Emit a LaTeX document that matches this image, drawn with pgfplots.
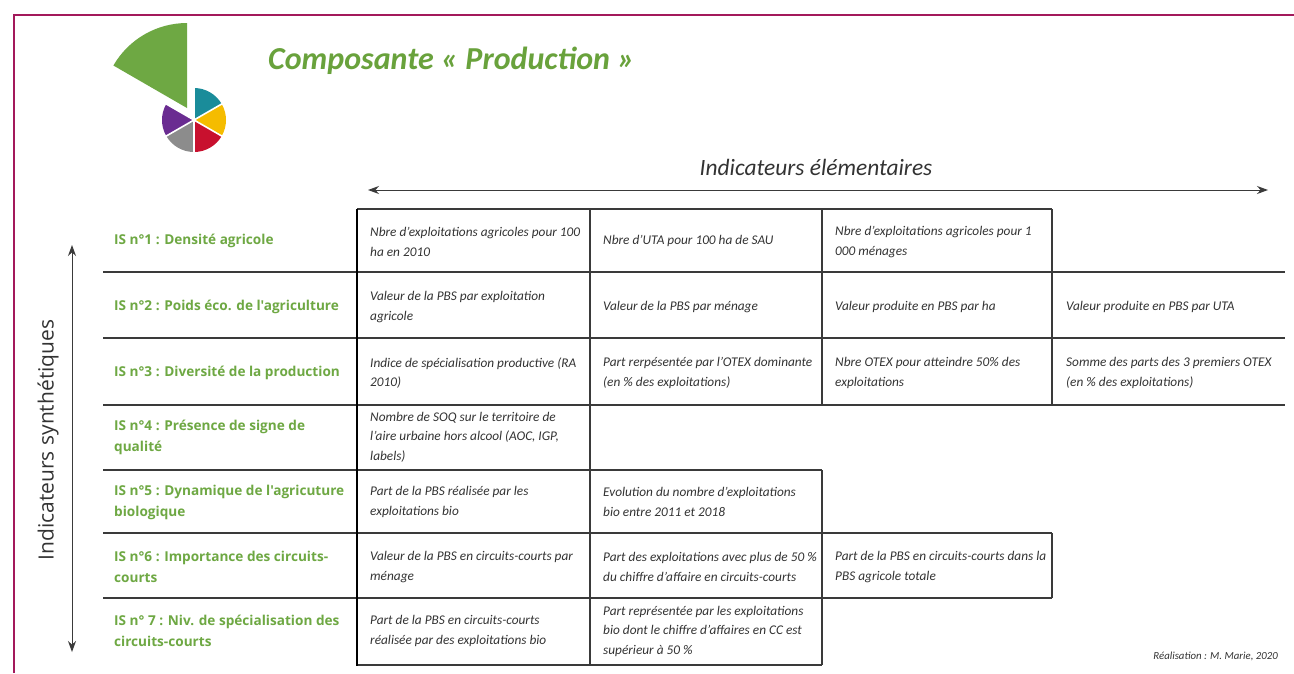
\documentclass[border=0pt]{standalone}
\usepackage{pgfplots}
\pgfplotsset{compat=1.18}
\usepackage{fontspec}
\setmainfont{Carlito}
\newfontfamily\osans{Open Sans}
\usetikzlibrary{arrows.meta}
\definecolor{frame}{HTML}{A3195B}
\definecolor{igreen}{HTML}{6EA843}
\definecolor{tgreen}{HTML}{69A23C}
\definecolor{pteal}{HTML}{1A8C9A}
\definecolor{pyellow}{HTML}{F5BC00}
\definecolor{pred}{HTML}{C8102E}
\definecolor{pgray}{HTML}{8C8C8C}
\definecolor{ppurple}{HTML}{6A2C91}
\definecolor{cellgray}{HTML}{333333}
\definecolor{linegray}{HTML}{3A3A3A}
\newcommand\cellfont{\fontsize{13.3}{19.5}\selectfont\itshape}
\newcommand\labfont{\osans\fontsize{13.6}{21}\selectfont\bfseries}
\newcommand\cell[3]{\node[anchor=west, align=left, font=\cellfont, text=cellgray, inner sep=0pt] at (axis cs:#1,#2) {#3};}
\newcommand\lab[2]{\node[anchor=west, align=left, font=\labfont, text=igreen, inner sep=0pt] at (axis cs:114,#1) {#2};}
\newcommand\hseg[3]{\addplot[linegray, line width=1.1pt] coordinates {(#2,#1) (#3,#1)};}
\newcommand\vseg[3]{\addplot[linegray, line width=1.1pt] coordinates {(#1,#2) (#1,#3)};}
\newcommand\pcut[1]{\draw[white, line width=1.6pt] (axis cs:194,120) -- ++(#1:34);}
\begin{document}
\begin{tikzpicture}
\useasboundingbox (0,0) rectangle (1294pt,673pt);
\fill[white] (0,0) rectangle (1294pt,673pt);
\begin{axis}[at={(0,0)}, anchor=south west, width=1294pt, height=673pt, scale only axis,
  xmin=0, xmax=1294, ymin=0, ymax=673, y dir=reverse, hide axis, clip=false]
% frame
\addplot[frame, line width=2pt] coordinates {(14,673) (14,15) (1294,15)};
% pie icon (angles negated because the y axis runs downwards)
\fill[igreen] (axis cs:187,108) -- ++(-90:85) arc[start angle=-90, end angle=-150, radius=85] -- cycle;
\fill[pteal] (axis cs:194,120) -- ++(-30:32) arc[start angle=-30, end angle=-90, radius=32] -- cycle;
\fill[pyellow] (axis cs:194,120) -- ++(30:32) arc[start angle=30, end angle=-30, radius=32] -- cycle;
\fill[pred] (axis cs:194,120) -- ++(90:32) arc[start angle=90, end angle=30, radius=32] -- cycle;
\fill[pgray] (axis cs:194,120) -- ++(150:32) arc[start angle=150, end angle=90, radius=32] -- cycle;
\fill[ppurple] (axis cs:194,120) -- ++(-150:32) arc[start angle=-150, end angle=-210, radius=32] -- cycle;
\pcut{30}\pcut{-30}\pcut{-90}\pcut{-150}\pcut{150}\pcut{90}
% title
\node[anchor=base west, inner sep=0pt, font=\fontsize{32}{36}\selectfont\bfseries\itshape, text=tgreen] at (axis cs:268,69) {Composante « Production »};
% axis headings
\node[font=\fontsize{23.4}{28}\selectfont\itshape, text=cellgray, inner sep=0pt] at (axis cs:816,167) {Indicateurs élémentaires};
\addplot[linegray, line width=1pt, {Stealth[length=11pt, width=8pt]}-{Stealth[length=11pt, width=8pt]}] coordinates {(368,190) (1268,190)};
\node[rotate=90, font=\osans\fontsize{21}{25}\selectfont, text=cellgray, inner sep=0pt] at (axis cs:48,440) {Indicateurs synthétiques};
\addplot[linegray, line width=1pt, {Stealth[length=11pt, width=8pt]}-{Stealth[length=11pt, width=8pt]}] coordinates {(72,245) (72,652)};
% grid lines
\hseg{209}{357}{1052}
\hseg{272}{103}{1285}
\hseg{338}{103}{1285}
\hseg{405}{103}{1285}
\hseg{470}{103}{822}
\hseg{533}{103}{1052}
\hseg{598}{103}{1052}
\hseg{665}{357}{822}
\vseg{590}{209}{665}
\vseg{822}{209}{405}
\vseg{822}{470}{665}
\vseg{1052}{209}{405}
\vseg{1052}{533}{598}
\addplot[black, line width=2.4pt] coordinates {(357,209) (357,666)};
% labels
\lab{241}{IS n°1 : Densité agricole}
\lab{307}{IS n°2 : Poids éco. de l'agriculture}
\lab{373}{IS n°3 : Diversité de la production}
\lab{437}{IS n°4 : Présence de signe de\\qualité}
\lab{502}{IS n°5 : Dynamique de l'agricuture\\biologique}
\lab{567}{IS n°6 : Importance des circuits-\\courts}
\lab{631}{IS n° 7 : Niv. de spécialisation des\\circuits-courts}
% cells row 1
\cell{370}{242}{Nbre d'exploitations agricoles pour 100\\ha en 2010}
\cell{603}{241}{Nbre d'UTA pour 100 ha de SAU}
\cell{835}{242}{Nbre d'exploitations agricoles pour 1\\000 ménages}
% row 2
\cell{370}{307}{Valeur de la PBS par exploitation\\agricole}
\cell{603}{307}{Valeur de la PBS par ménage}
\cell{835}{307}{Valeur produite en PBS par ha}
\cell{1066}{307}{Valeur produite en PBS par UTA}
% row 3
\cell{370}{373}{Indice de spécialisation productive (RA\\2010)}
\cell{603}{373}{Part rerpésentée par l'OTEX dominante\\(en \% des exploitations)}
\cell{835}{373}{Nbre OTEX pour atteindre 50\% des\\exploitations}
\cell{1066}{373}{Somme des parts des 3 premiers OTEX\\(en \% des exploitations)}
% row 4
\cell{370}{437}{Nombre de SOQ sur le territoire de\\l'aire urbaine hors alcool (AOC, IGP,\\labels)}
% row 5
\cell{370}{502}{Part de la PBS réalisée par les\\exploitations bio}
\cell{603}{502}{Evolution du nombre d'exploitations\\bio entre 2011 et 2018}
% row 6
\cell{370}{567}{Valeur de la PBS en circuits-courts par\\ménage}
\cell{603}{567}{Part des exploitations avec plus de 50 \%\\du chiffre d'affaire en circuits-courts}
\cell{835}{567}{Part de la PBS en circuits-courts dans la\\PBS agricole totale}
% row 7
\cell{370}{631}{Part de la PBS en circuits-courts\\réalisée par des exploitations bio}
\cell{603}{631}{Part représentée par les exploitations\\bio dont le chiffre d'affaires en CC est\\supérieur à 50 \%}
% credit
\node[anchor=east, inner sep=0pt, font=\fontsize{10.8}{12}\selectfont\itshape, text=cellgray] at (axis cs:1278,656) {Réalisation : M. Marie, 2020};
\end{axis}
\end{tikzpicture}
\end{document}
